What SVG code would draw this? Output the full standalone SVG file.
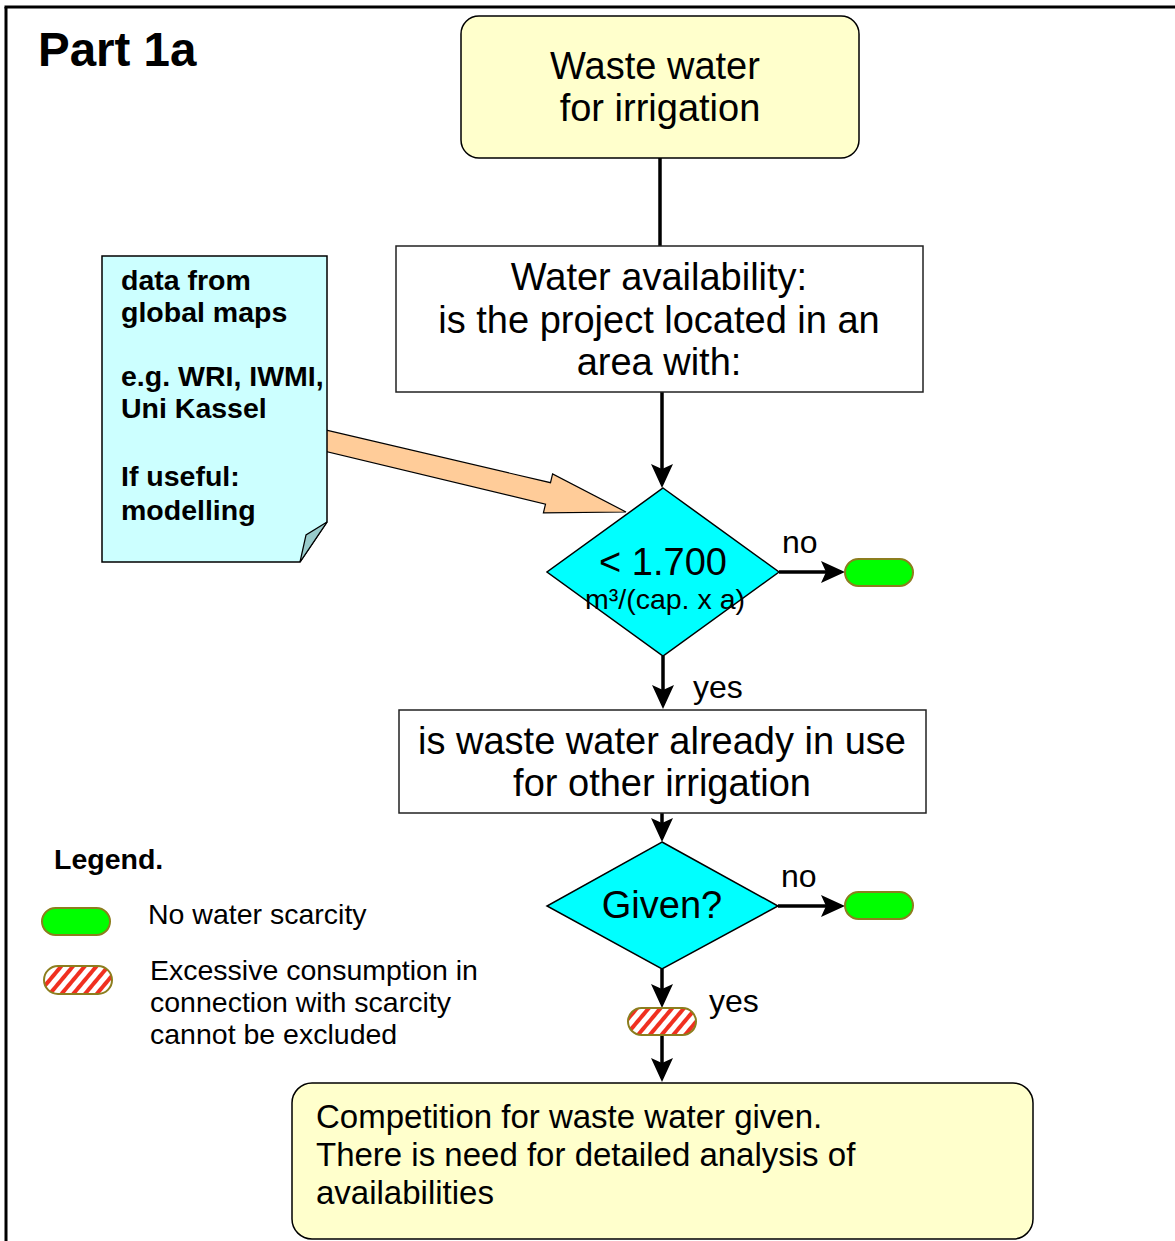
<svg xmlns="http://www.w3.org/2000/svg" width="1175" height="1241" viewBox="0 0 1175 1241">
<style>
text{font-family:"Liberation Sans",Arial,sans-serif;fill:#000}
.main{font-size:38px;text-anchor:middle}
.note{font-size:28.5px;font-weight:bold}
.lbl{font-size:32px}
.leg{font-size:28.5px}
.conn{stroke:#000;stroke-width:3.5;fill:none}
.pill-g{fill:#00FF00;stroke:#8C7E1E;stroke-width:2}
.pill-h{fill:url(#hatch);stroke:#8C7E1E;stroke-width:2}
.dia{fill:#00FFFF;stroke:#000;stroke-width:1.5}
</style>
<defs>
<marker id="ah" markerUnits="userSpaceOnUse" markerWidth="24" markerHeight="22" viewBox="0 0 24 22" refX="20" refY="11" orient="auto">
<path d="M0,0 L24,11 L0,22 L5,11 z" fill="#000"/>
</marker>
<pattern id="hatch" patternUnits="userSpaceOnUse" width="9" height="9" patternTransform="rotate(40)">
<rect width="9" height="9" fill="#fff"/>
<rect width="4" height="9" fill="#F03020"/>
</pattern>
</defs>
<rect width="1175" height="1241" fill="#fff"/>
<g id="frame">
<line x1="4.5" y1="7" x2="1175" y2="7" stroke="#000" stroke-width="3"/>
<line x1="6" y1="7" x2="6" y2="1241" stroke="#000" stroke-width="3"/>
</g>
<text x="38" y="66" style="font-size:47.5px;font-weight:bold">Part 1a</text>

<g id="connectors">
<line class="conn" x1="660" y1="158" x2="660" y2="246"/>
<line class="conn" x1="662" y1="392" x2="662" y2="484" marker-end="url(#ah)"/>
<line class="conn" x1="663" y1="656" x2="663" y2="705" marker-end="url(#ah)"/>
<line class="conn" x1="662" y1="813" x2="662" y2="838" marker-end="url(#ah)"/>
<line class="conn" x1="662" y1="969" x2="662" y2="1004" marker-end="url(#ah)"/>
<line class="conn" x1="662" y1="1035" x2="662" y2="1078" marker-end="url(#ah)"/>
<line class="conn" x1="779" y1="572" x2="841" y2="572" marker-end="url(#ah)"/>
<line class="conn" x1="778" y1="906" x2="841" y2="906" marker-end="url(#ah)"/>
<polygon id="block-arrow" points="320,428.7 550.5,482.7 552.6,473.9 626,512 543.4,512.9 545.5,504.1 320,450.1" fill="#FFCC99" stroke="#000" stroke-width="1.2"/>
</g>

<g id="start">
<rect x="461" y="16" width="398" height="142" rx="18" fill="#FFFFCC" stroke="#000" stroke-width="1.5"/>
<text class="main" x="655" y="79">Waste water</text>
<text class="main" x="660" y="121">for irrigation</text>
</g>

<g id="availability">
<rect x="396" y="246" width="527" height="146" fill="#fff" stroke="#222" stroke-width="1.5"/>
<text class="main" x="659" y="290">Water availability:</text>
<text class="main" x="659" y="333">is the project located in an</text>
<text class="main" x="659" y="375">area with:</text>
</g>

<g id="note">
<path d="M102,256 H327 V522 L300,562 H102 Z" fill="#CCFFFF" stroke="#000" stroke-width="1.5"/>
<path d="M327,522 L300,562 L306,535 Z" fill="#99CCCC" stroke="#000" stroke-width="1.2"/>
<text class="note" x="121" y="290">data from</text>
<text class="note" x="121" y="322">global maps</text>
<text class="note" x="121" y="386">e.g. WRI, IWMI,</text>
<text class="note" x="121" y="418">Uni Kassel</text>
<text class="note" x="121" y="486">If useful:</text>
<text class="note" x="121" y="520">modelling</text>
</g>

<g id="decision1">
<polygon class="dia" points="663,488 779,572 663,656 547,572"/>
<text class="main" x="663" y="575">&lt; 1.700</text>
<text x="665" y="609" style="font-size:28.5px;text-anchor:middle">m³/(cap. x a)</text>
</g>
<text class="lbl" x="782" y="553">no</text>
<text class="lbl" x="693" y="698">yes</text>

<g id="end-no-1">
<rect class="pill-g" x="845" y="559" width="68" height="27" rx="13.5"/>
</g>

<g id="inuse">
<rect x="399" y="710" width="527" height="103" fill="#fff" stroke="#222" stroke-width="1.5"/>
<text class="main" x="662" y="754">is waste water already in use</text>
<text class="main" x="662" y="796">for other irrigation</text>
</g>

<g id="decision2">
<polygon class="dia" points="662,842 778,906 662,969 547,906"/>
<text class="main" x="662" y="918">Given?</text>
</g>
<text class="lbl" x="781" y="887">no</text>
<text class="lbl" x="709" y="1012">yes</text>

<g id="end-no-2">
<rect class="pill-g" x="845" y="892" width="68" height="27" rx="13.5"/>
</g>

<g id="hatched-marker">
<rect class="pill-h" x="628" y="1008" width="68" height="27" rx="13.5"/>
</g>

<g id="result">
<rect x="292" y="1083" width="741" height="156" rx="20" fill="#FFFFCC" stroke="#000" stroke-width="1.5"/>
<text x="316" y="1128" style="font-size:33px">Competition for waste water given.</text>
<text x="316" y="1166" style="font-size:33px">There is need for detailed analysis of</text>
<text x="316" y="1204" style="font-size:33px">availabilities</text>
</g>

<g id="legend">
<text x="54" y="869" style="font-size:28.5px;font-weight:bold">Legend.</text>
<rect class="pill-g" x="42" y="908" width="68" height="27" rx="13.5"/>
<text class="leg" x="148" y="924">No water scarcity</text>
<rect class="pill-h" x="44" y="966" width="68" height="28" rx="14"/>
<text class="leg" x="150" y="980">Excessive consumption in</text>
<text class="leg" x="150" y="1012">connection with scarcity</text>
<text class="leg" x="150" y="1044">cannot be excluded</text>
</g>
</svg>
